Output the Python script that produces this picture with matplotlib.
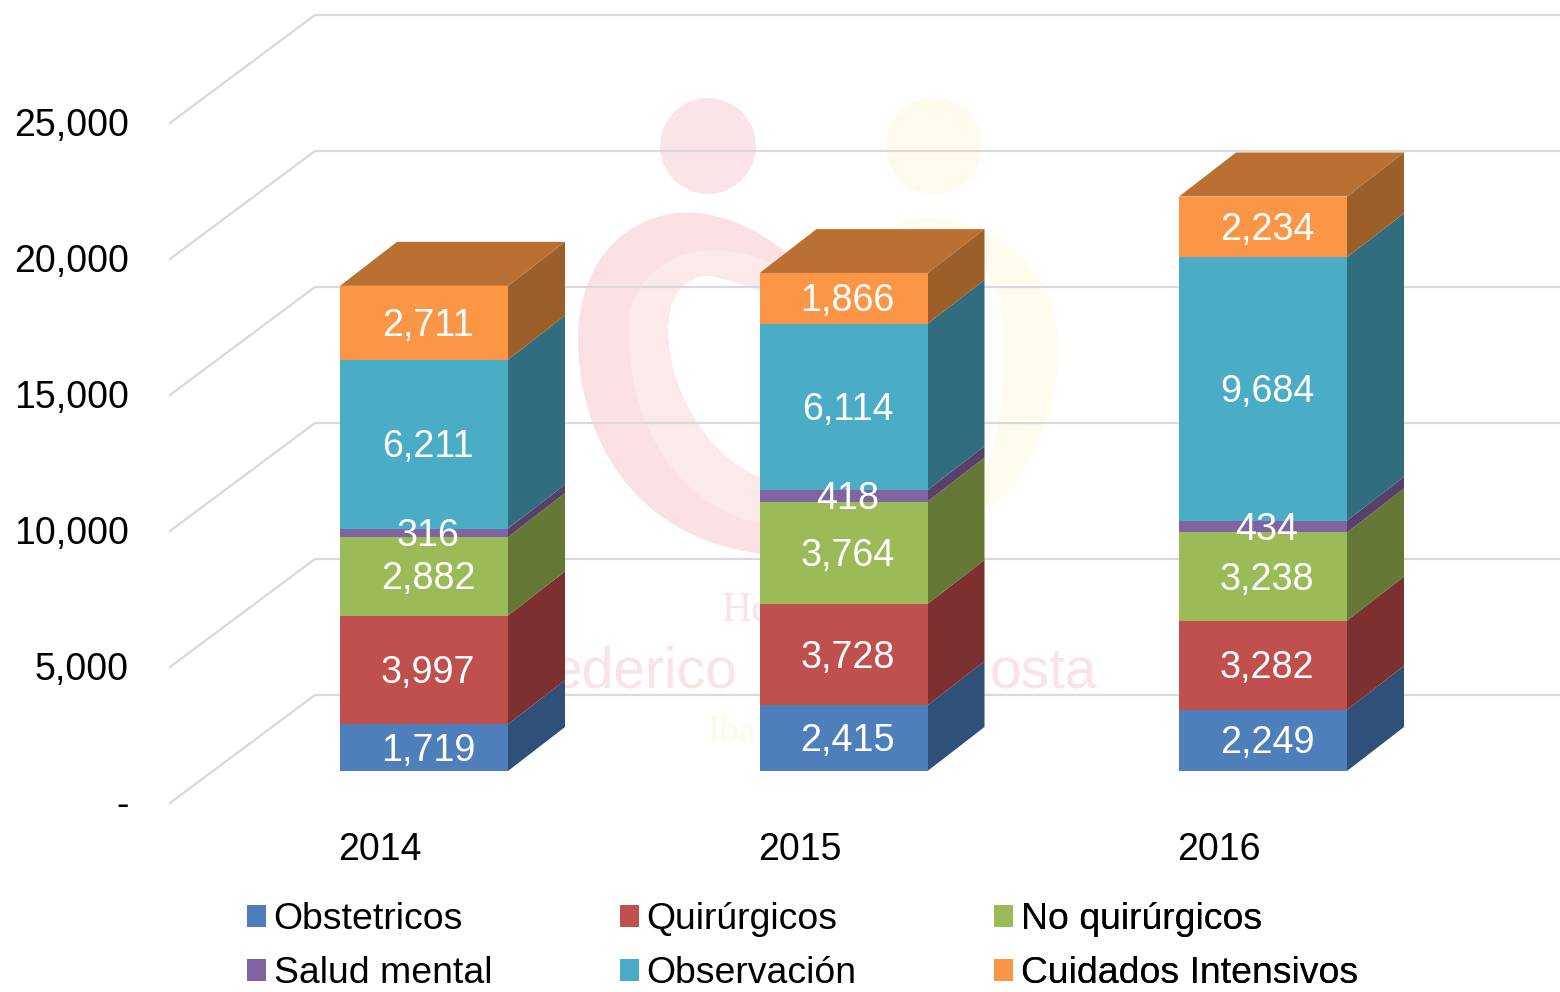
import matplotlib
matplotlib.use('Agg')
import numpy as np
import matplotlib.pyplot as plt
from matplotlib.patches import Circle, PathPatch, Patch
from matplotlib.path import Path

plt.rcParams['font.family'] = ['Liberation Sans', 'DejaVu Sans']

years = ['2014', '2015', '2016']
series_names = ['Obstetricos', 'Quirúrgicos', 'No quirúrgicos', 'Salud mental', 'Observación', 'Cuidados Intensivos']
obstetricos = [1719, 2415, 2249]
quirurgicos = [3997, 3728, 3282]
no_quirurgicos = [2882, 3764, 3238]
salud_mental = [316, 418, 434]
observacion = [6211, 6114, 9684]
cuidados = [2711, 1866, 2234]
series_values = [obstetricos, quirurgicos, no_quirurgicos, salud_mental, observacion, cuidados]
y_ticks = [0, 5000, 10000, 15000, 20000, 25000]
y_tick_labels = ['-', '5,000', '10,000', '15,000', '20,000', '25,000']

front_colors = ['#4f7fbb', '#c0504d', '#9bbb59', '#8064a2', '#4bacc6', '#fb9647']
side_colors = ['#2f5079', '#7c3030', '#657836', '#574069', '#316d7f', '#9c5f2a']
top_color = '#bb7033'

W, H = 1560, 992
px_x = 419.5      # pixels per category
px_y = 0.0272     # pixels per value unit
x0_px = 424       # centre of first bar front
y0_px = 771       # value 0 on the bar fronts
bar_w = 168 / px_x
dx = 57 / px_x    # bar depth
dy = 44 / px_y
wall_front = -32 / px_y
wall_dx = 145 / px_x
wall_dy = 108 / px_y

fig = plt.figure(figsize=(W / 100, H / 100), dpi=100, facecolor='white')

# faint logo behind the chart, in pixel coordinates
bg = fig.add_axes([0, 0, 1, 1], zorder=0)
bg.set_xlim(0, W)
bg.set_ylim(H, 0)
bg.axis('off')


def curve(start, segs, color):
    verts = [start]
    codes = [Path.MOVETO]
    for s in segs:
        verts += s
        codes += [Path.CURVE4] * 3 if len(s) == 3 else [Path.LINETO]
    verts.append(start)
    codes.append(Path.CLOSEPOLY)
    bg.add_patch(PathPatch(Path(verts, codes), fc=color, ec='none'))


bg.add_patch(Circle((708, 146), 48, fc='#fbe4e7', ec='none'))
bg.add_patch(Circle((934, 146), 48, fc='#fffaec', ec='none'))
curve((800, 265), [[(760, 225), (705, 205), (665, 215)],
                   [(600, 230), (578, 290), (578, 340)],
                   [(578, 420), (620, 540), (770, 555)],
                   [(770, 480)],
                   [(720, 470), (668, 400), (668, 330)],
                   [(668, 285), (695, 270), (720, 278)],
                   [(750, 285), (770, 295), (800, 310)]], '#fbe0e4')
curve((770, 262), [[(720, 240), (650, 245), (630, 310)],
                   [(620, 390), (660, 510), (770, 525)],
                   [(770, 480)],
                   [(720, 470), (668, 400), (668, 330)],
                   [(668, 285), (695, 270), (720, 278)],
                   [(740, 283), (755, 288), (770, 295)]], '#fce9ea')
curve((900, 222), [[(950, 205), (1058, 240), (1058, 348)],
                   [(1058, 420), (1020, 490), (985, 510)],
                   [(985, 470)],
                   [(1000, 440), (1005, 380), (1003, 330)],
                   [(1000, 285), (985, 270), (985, 265)]], '#fffcee')
bg.text(737, 672, 'ederico', fontsize=41, color='#fae3e5', ha='right', va='center')
bg.text(1097, 672, 'osta', fontsize=41, color='#fae3e5', ha='right', va='center')
bg.text(722, 611, 'Ho', family='Liberation Serif', fontsize=30, color='#fae3e5', ha='left', va='center')
bg.text(708, 733, 'Iba', family='Liberation Serif', fontsize=27, color='#fdfae6', ha='left', va='center')

# main axes, pixels map straight to data through the limits
ax_left, ax_bottom = 140, 820
ax = fig.add_axes([ax_left / W, (H - ax_bottom) / H, (W - ax_left) / W, ax_bottom / H], zorder=1)
ax.patch.set_alpha(0)
ax.set_xlim((ax_left - x0_px) / px_x, (W - x0_px) / px_x)
ax.set_ylim((y0_px - ax_bottom) / px_y, y0_px / px_y)
for s in ax.spines.values():
    s.set_visible(False)

x_pos = np.arange(len(years))
ticks = np.array(y_ticks)

# walls
x_wall = (170 - x0_px) / px_x
for v in ticks:
    ax.plot([x_wall, x_wall + wall_dx, ax.get_xlim()[1]],
            [v + wall_front, v + wall_front + wall_dy, v + wall_front + wall_dy],
            color='#d9d9d9', lw=1.6, zorder=1, solid_joinstyle='miter')

# stacked 3d bars
bottom = np.zeros(len(years))
for vals, fc, sc, name in zip(series_values, front_colors, side_colors, series_names):
    vals = np.array(vals)
    ax.bar(x_pos, vals, bar_w, bottom=bottom, color=fc, zorder=3, label=name)
    for x, b, v in zip(x_pos, bottom, vals):
        xr = x + bar_w / 2
        ax.fill([xr, xr + dx, xr + dx, xr], [b, b + dy, b + v + dy, b + v], color=sc, lw=0, zorder=2.5)
        ax.text(x + 4 / px_x, b + v / 2 + 1 / px_y, f'{v:,}', color='white', fontsize=27.2,
                ha='center', va='center_baseline', zorder=5)
    bottom = bottom + vals

for x, t in zip(x_pos, bottom):
    xl, xr = x - bar_w / 2, x + bar_w / 2
    ax.fill([xl, xr, xr + dx, xl + dx], [t, t, t + dy, t + dy], color=top_color, lw=0, zorder=2.5)

ax.set_yticks(ticks + wall_front + 1 / px_y, y_tick_labels)
ax.set_xticks(x_pos - 44 / px_x, years)
ax.tick_params(axis='both', length=0, labelsize=27, labelcolor='black')
ax.tick_params(axis='y', pad=8)
ax.tick_params(axis='x', pad=9)

# legend, one per column so the columns keep equal pitch
for col, x_leg in enumerate([247, 620, 994]):
    idx = [col, col + 3]
    handles = [Patch(fc=front_colors[i], ec='none') for i in idx]
    leg = ax.legend(handles, [series_names[i] for i in idx], loc='upper left',
                    bbox_to_anchor=(x_leg / W, 1 - 902 / H), bbox_transform=fig.transFigure,
                    frameon=False, fontsize=26.9, borderpad=0, borderaxespad=0,
                    handlelength=0.51, handleheight=0.51, handletextpad=0.2, labelspacing=0.52)
    ax.add_artist(leg)

fig.savefig('out.png', dpi=100, facecolor='white')
